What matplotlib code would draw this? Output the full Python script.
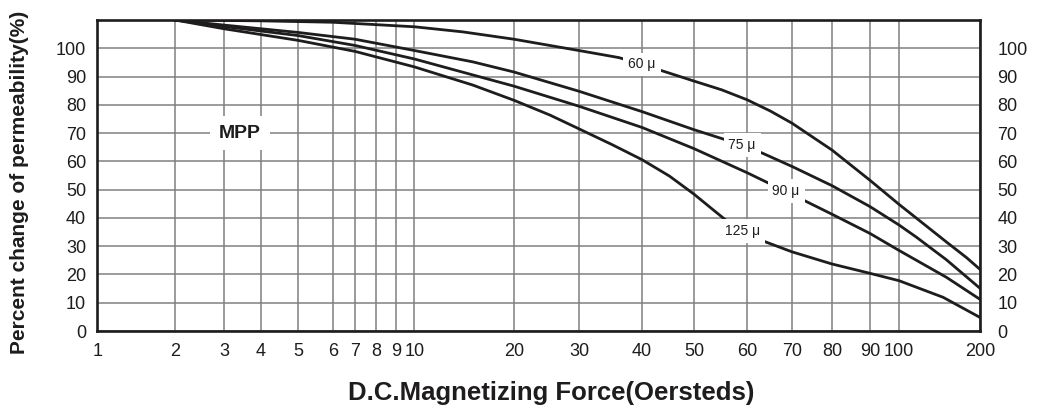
import numpy as np
import matplotlib
matplotlib.use("Agg")
import matplotlib.pyplot as plt

# ---- data -------------------------------------------------------------
x_ticks = [1, 2, 3, 4, 5, 6, 7, 8, 9, 10, 20, 30, 40, 50, 60, 70, 80, 90, 100, 200]
x_tick_labels = [str(v) for v in x_ticks]
y_ticks = list(range(0, 101, 10))

# Graduation of the printed abscissa (distance of each tick from the origin)
x_graduation = [0, 77.7, 126.7, 163.7, 200.7, 235.7, 257.7, 278.7, 298.7, 317.2,
                416.7, 481.7, 544.7, 596.7, 649.7, 694.7, 734.7, 772.7, 801.7, 882.7]

h_60 = [2, 4, 6, 10, 14, 20, 30, 36, 40, 45, 50, 55, 60, 65, 70, 80, 90, 100, 150, 178, 200]
p_60 = [110, 109.7, 109.2, 107.6, 105.8, 103.2, 99.2, 96.7, 94.3, 91.2, 88.4, 85.3, 81.8,
        77.8, 73.5, 64, 53.3, 44.8, 31.5, 26.0, 21.8]

h_75 = [2, 3, 5, 7, 10, 15, 20, 30, 40, 50, 55.8, 59, 63.4, 70, 80, 90, 100, 116, 150, 200]
p_75 = [110, 108.2, 105.6, 103.2, 99.2, 95.2, 91.6, 84.8, 77.6, 71.2, 67.6, 65.8, 62.8,
        58.2, 51.4, 44, 37.5, 33.2, 25.2, 15.1]

h_90 = [2, 3, 5, 7, 10, 20, 30, 40, 50, 60, 70, 80, 90, 100, 150, 200]
p_90 = [110, 107.7, 104.5, 101, 96.2, 86.6, 79.5, 72, 64.5, 56, 48.3, 41.3, 34.5, 28.5, 19, 11.2]

h_125 = [2, 3, 5, 7, 10, 15, 20, 25, 30, 35, 40, 45, 50, 53, 56.2, 59, 63.8, 70, 80, 90, 100, 146, 200]
p_125 = [110, 106.9, 102.8, 98.9, 93.4, 87.0, 81.6, 76.4, 71.5, 65.8, 60.6, 54.8, 48.4, 43.5,
         38.6, 35.4, 31.6, 28, 23.7, 20.4, 17.8, 11.9, 4.8]

curve_names = ["60 \u03bc", "75 \u03bc", "90 \u03bc", "125 \u03bc"]
name_at = [(40, 94.3), (59, 65.8), (68.6, 49.6), (59, 35.4)]

# ---- figure -----------------------------------------------------------
plt.rcParams["font.family"] = ["Liberation Sans", "DejaVu Sans"]
ink = "#1e1c1d"

fig = plt.figure(figsize=(10.37, 4.09), dpi=100)
ax = fig.add_axes([97.3 / 1037, 1 - 331 / 409, (980 - 97.3) / 1037, (331 - 20) / 409])

log_knots = np.log10(x_ticks)


def fwd(x):
    x = np.clip(np.asarray(x, dtype=float), 1e-6, None)
    return np.interp(np.log10(x), log_knots, x_graduation)


def inv(p):
    return 10 ** np.interp(np.asarray(p, dtype=float), x_graduation, log_knots)


ax.set_xscale("function", functions=(fwd, inv))
ax.set_xlim(1, 200)
ax.set_ylim(0, 110)

for hx, py in [(h_60, p_60), (h_75, p_75), (h_90, p_90), (h_125, p_125)]:
    ax.plot(hx, py, color=ink, lw=2.0, solid_joinstyle="round", zorder=3)

for name, (tx, ty) in zip(curve_names, name_at):
    ax.text(tx, ty, name, fontsize=10, color=ink, ha="center", va="center", zorder=5,
            bbox=dict(boxstyle="square,pad=0.35", fc="white", ec="none"))

ax.text(3.4, 70, "MPP", fontsize=14, fontweight="bold", color=ink, ha="center",
        va="center", zorder=5, bbox=dict(boxstyle="square,pad=0.45", fc="white", ec="none"))

ax.set_xticks(x_ticks)
ax.set_xticklabels(x_tick_labels)
ax.set_yticks(y_ticks)
ax.set_yticklabels([str(v) for v in y_ticks])
ax.minorticks_off()
ax.tick_params(axis="both", length=0, labelsize=13, colors=ink)
ax.tick_params(axis="x", pad=9)
ax.tick_params(axis="y", pad=8)

right = ax.secondary_yaxis("right")
right.set_yticks(y_ticks)
right.set_yticklabels([str(v) for v in y_ticks])
right.tick_params(length=0, labelsize=13, colors=ink, pad=12.5)
right.spines["right"].set_visible(False)

ax.grid(True, color="#808080", lw=1.1, zorder=1)
ax.set_axisbelow(True)
for s in ax.spines.values():
    s.set_linewidth(1.9)
    s.set_color(ink)
    s.set_zorder(4)

fig.text(20 / 1037, 1 - 182 / 409, "Percent change of permeability(%)", rotation=90,
         ha="center", va="center", fontsize=15, fontweight="bold", color=ink)
fig.text(551 / 1037, 1 - 393 / 409, "D.C.Magnetizing Force(Oersteds)", ha="center",
         va="center", fontsize=18.5, fontweight="bold", color=ink,
         family=["Liberation Sans Narrow", "Liberation Sans"])

fig.savefig("out.png", dpi=100)
